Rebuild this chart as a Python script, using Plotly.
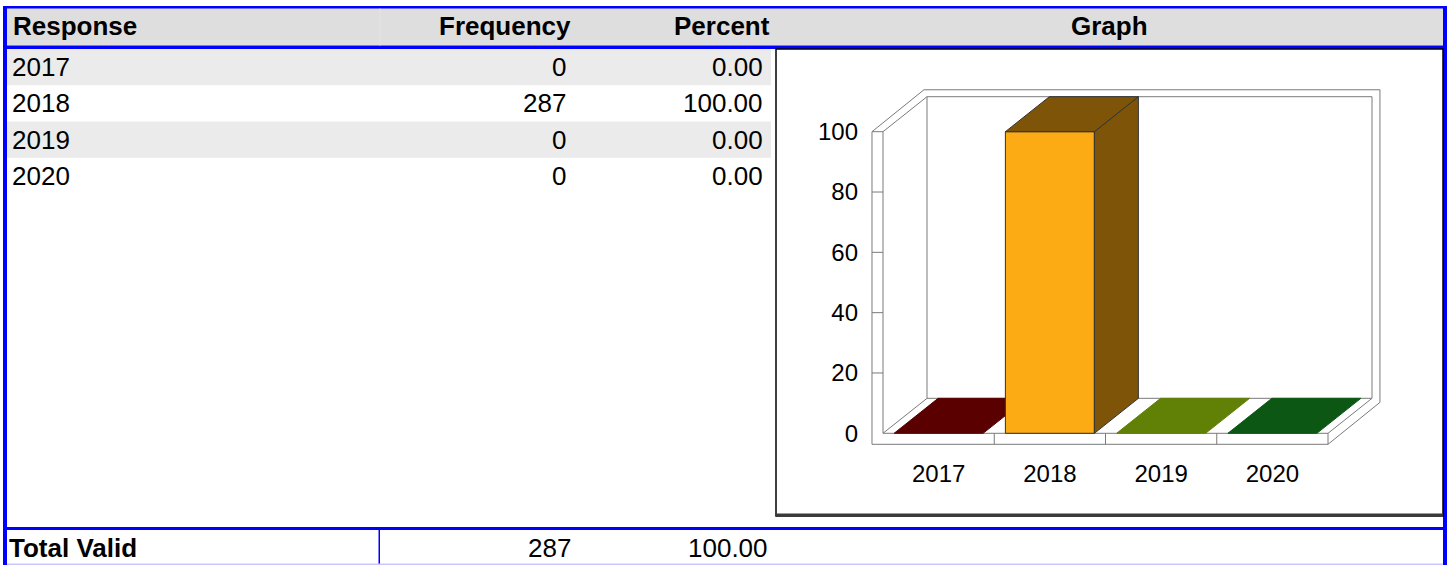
import plotly.graph_objects as go

# table / chart data
responses = ["2017", "2018", "2019", "2020"]
frequency = [0, 287, 0, 0]
percent = [0.00, 100.00, 0.00, 0.00]
total_frequency = 287
total_percent = 100.00
y_ticks = [0, 20, 40, 60, 80, 100]

front_colors = ["#8a0000", "#fdab15", "#7fa80a", "#137a1d"]
top_colors = ["#5a0000", "#7e5508", "#608006", "#0c5713"]

W, H = 1448, 565
FONT = "Liberation Sans, Arial, sans-serif"
BLUE = "#0000ff"


def px(x):
    return x / W


def py(y):
    return 1 - y / H


# pseudo 3d geometry, in axis units
HALF = 0.4            # half bar width (categories)
DX, DY = 0.3955, 11.6  # depth of the floor / bars
ODX, ODY = 0.467, 13.9  # depth of the outer frame
WALL = 0.099          # thickness of the left wall
SLAB = 3.65           # thickness of the floor
n = len(responses)
x0, x1 = -0.5, n - 0.5
xo = x0 - WALL
top = max(y_ticks)

fig = go.Figure()

# frame of the 3d box
fx, fy = [], []


def seg(pts):
    for a, b in pts:
        fx.append(a)
        fy.append(b)
    fx.append(None)
    fy.append(None)


seg([(xo, top), (xo, -SLAB), (x1, -SLAB), (x1 + ODX, -SLAB + ODY),
     (x1 + ODX, top + ODY), (xo + ODX, top + ODY), (xo, top)])
seg([(xo, top), (x0, top), (x0, 0), (x1, 0), (x1, -SLAB)])
seg([(x1, 0), (x1 + DX, DY), (x1 + DX, top + DY), (x0 + DX, top + DY),
     (x0 + DX, DY), (x1 + DX, DY)])
seg([(x0, 0), (x0 + DX, DY)])
seg([(x0, top), (x0 + DX, top + DY)])
for t in y_ticks[1:-1]:
    seg([(xo, t), (x0, t)])
for k in range(1, n):
    seg([(x0 + k, 0), (x0 + k, -SLAB)])

fig.add_trace(go.Scatter(x=fx, y=fy, mode="lines",
                         line=dict(color="#7a7a7a", width=1),
                         hoverinfo="skip", showlegend=False))

# bars
for i, v in enumerate(percent):
    l, r = i - HALF, i + HALF
    edge = "#333333" if v > 0 else top_colors[i]
    if v > 0:
        fig.add_trace(go.Scatter(
            x=[l, r, r, l, l], y=[0, 0, v, v, 0], fill="toself",
            fillcolor=front_colors[i], mode="lines",
            line=dict(color=edge, width=1), hoverinfo="skip", showlegend=False))
        fig.add_trace(go.Scatter(
            x=[r, r + DX, r + DX, r, r], y=[0, DY, v + DY, v, 0], fill="toself",
            fillcolor=top_colors[i], mode="lines",
            line=dict(color=edge, width=1), hoverinfo="skip", showlegend=False))
    fig.add_trace(go.Scatter(
        x=[l, l + DX, r + DX, r, l], y=[v, v + DY, v + DY, v, v], fill="toself",
        fillcolor=top_colors[i], mode="lines",
        line=dict(color=edge, width=1), hoverinfo="skip", showlegend=False))

shapes = []


def rect(xa, ya, xb, yb, fill, line_color=None, lw=0):
    shapes.append(dict(type="rect", xref="paper", yref="paper",
                       x0=px(xa), x1=px(xb), y0=py(yb), y1=py(ya),
                       fillcolor=fill, line=dict(color=line_color or fill, width=lw),
                       layer="below"))


# header band and striped rows
rect(7, 8, 1443, 45.5, "#dedede")
ROW_TOP, ROW_H = 49, 36.25
for i in range(n):
    if i % 2 == 0:
        rect(7, ROW_TOP + i * ROW_H, 771, ROW_TOP + (i + 1) * ROW_H, "#ebebeb")

# blue borders
rect(3, 6, 1447, 8.5, BLUE)
rect(3, 6, 7, 565, BLUE)
rect(1443, 6, 1447, 565, BLUE)
rect(7, 45.5, 1443, 49, BLUE)
rect(7, 527, 1443, 530, BLUE)
rect(378.5, 530, 380, 565, BLUE)
rect(7, 563.5, 1443, 565, "#c8c8ff")
rect(379.5, 8.5, 380.5, 45.5, "#e4e4e4")

# graph box
rect(776, 49, 1443, 516, "white", "black", 1.5)
rect(776, 513.5, 1443, 516.5, "#3a3a3a")

annotations = []


def text(s, x, y, anchor, bold=False, size=26):
    annotations.append(dict(
        text=f"<b>{s}</b>" if bold else s, x=px(x), y=py(y),
        xref="paper", yref="paper", xanchor=anchor, yanchor="middle",
        showarrow=False, font=dict(family=FONT, size=size, color="black")))


text("Response", 11, 26, "left", True)
text("Frequency", 573, 26, "right", True)
text("Percent", 772, 26, "right", True)
text("Graph", 1109.5, 26, "center", True)

for i, name in enumerate(responses):
    yc = ROW_TOP + (i + 0.5) * ROW_H
    text(name, 10, yc, "left")
    text(f"{frequency[i]}", 568, yc, "right")
    text(f"{percent[i]:.2f}", 765, yc, "right")

text("Total Valid", 7, 548, "left", True)
text(f"{total_frequency}", 573, 548, "right")
text(f"{total_percent:.2f}", 770, 548, "right")

fig.update_layout(
    width=W, height=H,
    margin=dict(l=0, r=0, t=0, b=0),
    paper_bgcolor="white", plot_bgcolor="rgba(0,0,0,0)",
    font=dict(family=FONT, color="black"),
    shapes=shapes, annotations=annotations,
    xaxis=dict(domain=[px(776), px(1443)], range=[-1.4618, 4.5337],
               tickvals=list(range(n)), ticktext=responses,
               tickfont=dict(size=24), ticks="", showgrid=False,
               zeroline=False, showline=False, anchor="free", position=py(457)),
    yaxis=dict(domain=[py(516), py(49)], range=[-27.42, 127.42],
               tickvals=y_ticks, tickfont=dict(size=24), ticks="",
               showgrid=False, zeroline=False, showline=False,
               anchor="free", position=px(858)),
)

fig.write_html("out.html", config={"displayModeBar": False},
               post_script="document.body.style.margin='0';")
